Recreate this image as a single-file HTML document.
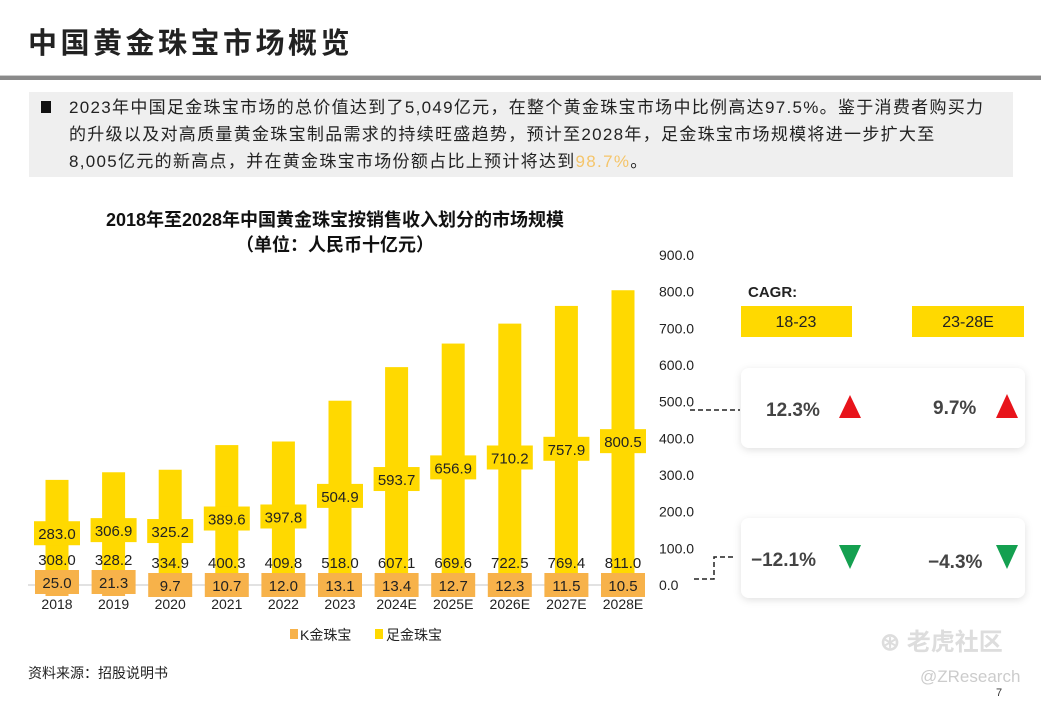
<!DOCTYPE html>
<html><head><meta charset="utf-8"><style>
body{margin:0;width:1041px;height:701px;overflow:hidden;background:#fff;font-family:"Liberation Sans","Noto Sans CJK SC",sans-serif;position:relative}
.abs{position:absolute}
</style></head><body>
<div class="abs" style="left:28px;top:20px;font-size:29px;font-weight:bold;color:#222;letter-spacing:3.5px">中国黄金珠宝市场概览</div>
<div class="abs" style="left:0;top:75px;width:1041px;height:4px;background:#8a8a8a;border-top:1px solid #ccc"></div>
<div class="abs" style="left:29px;top:92px;width:984px;height:85px;background:#efefef"></div>
<div class="abs" style="left:41px;top:101px;width:10px;height:12px;background:#111"></div>
<div class="abs" style="left:69px;top:94px;width:960px;font-size:17px;line-height:27px;color:#222;letter-spacing:1.3px;white-space:nowrap">2023年中国足金珠宝市场的总价值达到了5,049亿元，在整个黄金珠宝市场中比例高达97.5%。鉴于消费者购买力<br>的升级以及对高质量黄金珠宝制品需求的持续旺盛趋势，预计至2028年，足金珠宝市场规模将进一步扩大至<br>8,005亿元的新高点，并在黄金珠宝市场份额占比上预计将达到<span style="color:#f5c56a">98.7%</span>。</div>
<div class="abs" style="left:60px;top:208px;width:550px;text-align:center;font-size:18px;font-weight:bold;line-height:25px;color:#111">2018年至2028年中国黄金珠宝按销售收入划分的市场规模<br>（单位：人民币十亿元）</div>
<svg class="abs" style="left:0;top:0" width="1041" height="701">
<g id="plot"></g>
<g id="axis"></g>
<g id="legend" font-size="14" fill="#222">
<rect x="290" y="629" width="8" height="10" fill="#f7b24a"/>
<text x="300" y="640">K金珠宝</text>
<rect x="375" y="629" width="8" height="10" fill="#ffd900"/>
<text x="386" y="640">足金珠宝</text>
</g>
<text x="748" y="297" font-size="15" font-weight="bold" fill="#222">CAGR:</text>
<rect x="741" y="306" width="111" height="31" fill="#ffd900"/>
<text x="796" y="327" font-size="16" text-anchor="middle" fill="#222">18-23</text>
<rect x="912" y="306" width="112" height="31" fill="#ffd900"/>
<text x="968" y="327" font-size="16" text-anchor="middle" fill="#222">23-28E</text>
<defs><filter id="sh" x="-10%" y="-20%" width="120%" height="140%"><feDropShadow dx="0" dy="2" stdDeviation="4" flood-color="#000" flood-opacity="0.12"/></filter></defs>
<rect x="741" y="368" width="284" height="80" rx="8" fill="#fff" filter="url(#sh)"/>
<rect x="741" y="518" width="284" height="80" rx="8" fill="#fff" filter="url(#sh)"/>
<g font-size="19" font-weight="bold" fill="#444">
<text x="766" y="416">12.3%</text>
<text x="933" y="414">9.7%</text>
<text x="751" y="566">−12.1%</text>
<text x="928" y="568">−4.3%</text>
</g>
<polygon points="850,395 839,418 861,418" fill="#e8141b"/>
<polygon points="1007,394 996,418 1018,418" fill="#e8141b"/>
<polygon points="839,545 861,545 850,569" fill="#14a050"/>
<polygon points="996,545 1018,545 1007,569" fill="#14a050"/>
<path d="M690,410 H740" stroke="#222" stroke-width="1.5" stroke-dasharray="5,3" fill="none"/>
<path d="M694,579 H714 V557 H736" stroke="#222" stroke-width="1.5" stroke-dasharray="5,3" fill="none"/>
</svg>
<div class="abs" style="left:28px;top:663px;font-size:14px;color:#222">资料来源：招股说明书</div>
<div class="abs" style="left:880px;top:622px;font-size:24px;color:#ddd;font-weight:bold">⊛ 老虎社区</div>
<div class="abs" style="left:920px;top:667px;font-size:17px;color:#ccc">@ZResearch</div>
<div class="abs" style="left:996px;top:687px;font-size:11px;color:#333">7</div>
<script>
const categories=["2018","2019","2020","2021","2022","2023","2024E","2025E","2026E","2027E","2028E"];
const kGold=[25.0,21.3,9.7,10.7,12.0,13.1,13.4,12.7,12.3,11.5,10.5];
const pureGold=[283.0,306.9,325.2,389.6,397.8,504.9,593.7,656.9,710.2,757.9,800.5];
const totals=[308.0,328.2,334.9,400.3,409.8,518.0,607.1,669.6,722.5,769.4,811.0];
const yTicks=[0,100,200,300,400,500,600,700,800,900];
const NS="http://www.w3.org/2000/svg";
const base=596,scale=0.377,x0=57,step=56.6;
const y=v=>base-v*scale;
const x=i=>x0+i*step;
const ay=v=>584-v*(330/900);
const plot=document.getElementById('plot'),axis=document.getElementById('axis');
function mk(tag,attrs,parent,txt){const e=document.createElementNS(NS,tag);for(const k in attrs)e.setAttribute(k,attrs[k]);if(txt!==undefined)e.textContent=txt;parent.appendChild(e);return e;}
categories.forEach((c,i)=>{
 const cx=x(i);
 const kb=mk('rect',{x:cx-11.5,y:y(kGold[i]),width:23,height:kGold[i]*scale,fill:'#f7b24a'},plot);
 
 const pb=mk('rect',{x:cx-11.5,y:y(kGold[i]+pureGold[i]),width:23,height:pureGold[i]*scale,fill:'#ffd900'},plot);
 
 const my=y(kGold[i]+pureGold[i]/2);
 const pl=mk('rect',{x:cx-23,y:my-12,width:46,height:24,fill:'#ffd900'},plot);
 
 const pt=mk('text',{x:cx,y:my+6,'text-anchor':'middle','font-size':15,fill:'#222'},plot,pureGold[i].toFixed(1));
 
});
const gl=mk('line',{x1:28,x2:645,y1:585,y2:585,stroke:'#d9d9d9','stroke-width':1.5},plot);

categories.forEach((c,i)=>{
 const cx=x(i);
 const tt=mk('text',{x:cx,y:565+(i>1?3:0),'text-anchor':'middle','font-size':15,fill:'#222'},plot,totals[i].toFixed(1));
 
 const kl=mk('rect',{x:cx-22,y:570+(i>1?3:0),width:44,height:24,fill:'#f7b24a'},plot);
 
 const kt=mk('text',{x:cx,y:588+(i>1?3:0),'text-anchor':'middle','font-size':15,fill:'#222'},plot,kGold[i].toFixed(1));
 
 const ct=mk('text',{x:cx,y:609,'text-anchor':'middle','font-size':14,fill:'#222'},plot,c);
 
});
yTicks.forEach(v=>{
 const t=mk('text',{x:659,y:ay(v)+6,'font-size':14,fill:'#222'},axis,v.toFixed(1));
 
});
</script>
</body></html>
